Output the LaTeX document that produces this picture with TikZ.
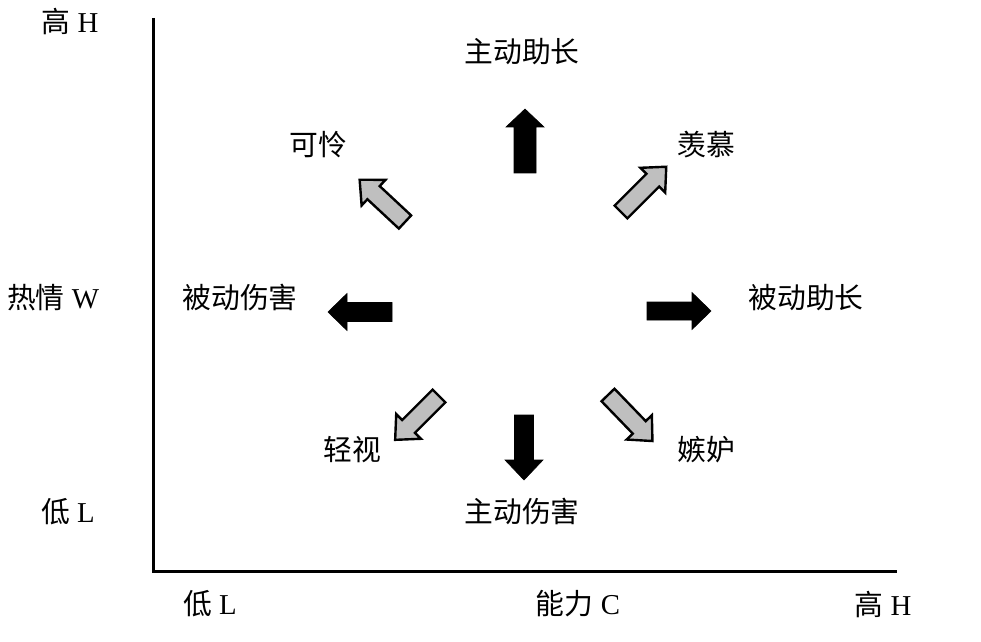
\documentclass[tikz,border=0pt]{standalone}
\usepackage{fontspec}
\setmainfont{Liberation Serif}
\newfontfamily\cjk{Noto Sans CJK SC}
\newcommand\barrow[8]{\draw[#8, shift={(#1,#2)}, rotate=#3] (0,-#5) -- (#4-#7,-#5) -- (#4-#7,-#6) -- (#4,0) -- (#4-#7,#6) -- (#4-#7,#5) -- (0,#5) -- cycle;}
\tikzset{
  lbl/.style={inner sep=0pt, font=\fontsize{14.4}{17}\selectfont},
  blk/.style={fill=black, draw=black, line width=0.3pt, line join=miter},
  gry/.style={fill=black!25, draw=black, line width=1.2pt, line join=miter},
  axis/.style={line width=1.5pt}
}
\begin{document}
\begin{tikzpicture}[x=0.5pt,y=-0.5pt]
\useasboundingbox (0,0) rectangle (981,642);
% axes
\coordinate (top) at (153,18);
\coordinate (o) at (153,571);
\coordinate (right) at (897,571);
\draw[axis] (top) -- (o) -- (right);
% axis labels
\node[lbl] (yh) at (70,22) {{\cjk 高} H};
\node[lbl] (yw) at (53,298) {{\cjk 热情} W};
\node[lbl] (yl) at (68,512) {{\cjk 低} L};
\node[lbl] (xl) at (210,604) {{\cjk 低} L};
\node[lbl] (xc) at (578,604) {{\cjk 能力} C};
\node[lbl] (xh) at (883,604) {{\cjk 高} H};
% category labels
\node[lbl] (n) at (522,52) {\cjk 主动助长};
\node[lbl] (nw) at (318,145) {\cjk 可怜};
\node[lbl] (ne) at (706,145) {\cjk 羡慕};
\node[lbl] (w) at (240,298) {\cjk 被动伤害};
\node[lbl] (e) at (806,298) {\cjk 被动助长};
\node[lbl] (sw) at (352,450) {\cjk 轻视};
\node[lbl] (se) at (706,450) {\cjk 嫉妒};
\node[lbl] (s) at (522,512) {\cjk 主动伤害};
% block arrows
\barrow{525}{173}{90}{64}{11}{19}{18}{blk}
\barrow{524}{415}{-90}{65}{9.5}{19}{20}{blk}
\barrow{392}{312}{180}{64}{9.5}{18.5}{19}{blk}
\barrow{647}{311}{0}{64}{9}{18.5}{19}{blk}
\barrow{621}{212}{45}{64}{9}{17.5}{19}{gry}
\barrow{405}{222}{137}{62}{9}{17.5}{19}{gry}
\barrow{439}{396}{225}{62}{9}{17.5}{19}{gry}
\barrow{608}{395}{-46}{64}{9}{17.5}{19}{gry}
\end{tikzpicture}
\end{document}
